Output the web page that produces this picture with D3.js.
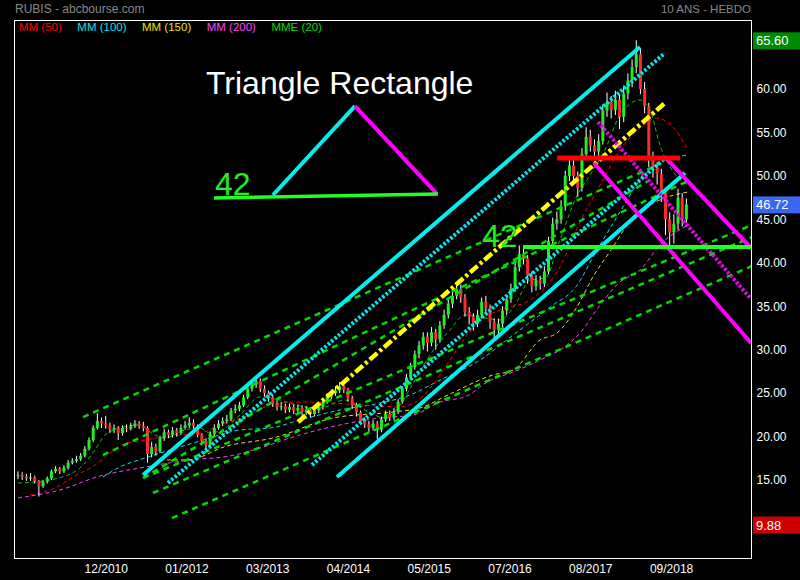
<!DOCTYPE html>
<html><head><meta charset="utf-8">
<script src="https://cdn.jsdelivr.net/npm/d3@7"></script>
<style>html,body{margin:0;padding:0;background:#000;}svg{display:block;}</style>
</head><body>
<svg id="c" width="800" height="580"></svg>
<script>
// ---- DATA ----
// candles: one candle = 3 weeks, week index = 3*i (week 0 = end of Sep 2009)
const candleStep = 3;
const firstOpen = 15.5;
const closes = [15.6,15.4,15.2,15.3,14.9,14.3,14.8,15.2,16.0,16.3,16.0,16.4,17.0,17.2,17.4,17.8,18.6,19.6,21.0,21.8,
21.5,21.3,20.8,21.0,20.4,21.0,20.9,21.2,21.5,21.2,21.0,18.0,18.8,18.3,19.8,20.5,20.2,20.7,20.4,21.0,
21.3,21.6,21.2,20.2,19.5,19.0,20.3,21.0,21.5,21.8,22.0,23.0,23.2,23.6,24.5,25.5,26.0,26.4,25.5,25.0,
24.5,23.8,23.4,23.5,23.1,23.4,23.0,23.3,22.8,23.1,22.6,23.0,23.4,24.0,24.6,25.0,25.3,25.8,25.4,24.4,
23.6,22.8,21.8,21.4,21.0,21.5,20.8,22.0,22.6,22.2,22.8,24.0,25.5,26.8,28.0,29.5,30.5,31.5,30.8,32.0,
31.2,32.8,34.0,35.3,36.2,37.0,36.0,34.3,33.8,33.0,34.0,35.5,34.8,33.2,32.3,33.0,34.5,35.8,37.0,39.5,
41.0,40.5,38.5,37.3,38.0,37.6,39.0,42.5,44.5,45.0,46.5,50.0,51.2,50.0,48.6,52.5,54.5,53.5,52.8,54.0,
57.5,58.5,57.6,58.8,56.8,59.5,61.0,62.5,64.0,60.0,58.0,52.0,51.0,50.2,48.0,45.0,43.5,44.5,47.5,45.0,46.72];
const highs = [16.0,15.9,15.7,15.8,15.5,15.0,15.0,15.4,16.2,16.6,16.5,16.7,17.3,17.5,17.8,18.1,18.9,19.9,21.3,22.7,
22.2,22.4,21.6,21.4,21.2,21.3,21.4,21.6,21.9,21.8,21.7,21.2,19.4,19.2,20.1,20.9,20.8,21.1,21.0,21.4,
21.8,22.2,22.0,21.4,20.4,19.8,20.6,21.4,21.9,22.2,22.5,23.3,23.7,24.0,24.8,25.8,26.5,27.0,26.7,25.9,
25.3,24.8,24.2,24.0,23.8,23.8,23.7,23.7,23.6,23.5,23.4,23.4,23.8,24.4,25.0,25.4,25.8,26.3,26.1,25.6,
24.7,23.9,23.0,22.2,21.8,21.9,21.8,22.3,23.0,23.0,23.3,24.3,25.8,27.2,28.5,29.9,31.0,32.0,32.0,32.6,
32.4,33.3,34.6,35.8,36.9,37.8,37.5,36.4,34.9,34.2,34.6,36.0,36.2,35.2,33.6,33.6,35.0,36.3,37.6,40.0,
42.0,41.7,40.9,39.0,38.6,38.5,39.6,43.0,45.2,45.9,47.2,50.6,52.0,51.8,50.5,53.2,55.6,55.3,54.2,54.8,
58.2,59.6,59.2,59.8,59.4,60.4,61.8,63.4,65.6,64.6,60.8,58.4,52.8,51.6,50.8,48.6,45.8,45.6,48.5,48.0,47.4];
const lows = [15.1,15.0,14.9,14.9,14.6,13.1,14.1,14.6,15.0,15.8,15.7,15.8,16.2,16.8,17.0,17.2,17.6,18.4,19.4,20.8,
21.0,20.9,20.4,20.4,19.6,20.1,20.5,20.7,21.0,20.9,20.6,17.0,17.6,17.8,18.1,19.5,19.8,19.9,20.0,20.2,
20.8,21.0,20.9,19.9,19.0,18.5,18.8,20.0,20.8,21.2,21.5,21.8,22.7,22.9,23.4,24.3,25.2,25.6,25.1,24.6,
24.0,23.4,23.0,23.0,22.7,22.8,22.6,22.7,22.4,22.5,22.2,22.3,22.7,23.1,23.8,24.3,24.7,25.0,25.0,24.0,
23.2,22.3,21.4,21.0,20.5,20.7,19.7,20.5,21.7,21.8,21.9,22.6,23.8,25.2,26.5,27.7,29.0,30.0,29.8,30.4,
30.0,30.8,32.4,33.6,34.8,35.8,35.4,33.8,32.9,32.2,32.6,33.6,34.2,32.4,31.0,31.8,32.6,34.0,35.4,36.7,
39.0,39.8,37.6,36.6,36.8,36.9,37.2,38.7,42.0,43.8,44.5,46.0,49.4,49.2,47.6,48.2,52.0,52.8,51.8,52.2,
53.6,56.8,56.6,57.0,55.4,56.2,58.8,60.2,61.8,59.4,57.2,51.0,49.8,49.0,47.0,43.2,42.0,42.2,43.8,44.2,44.6];

// moving averages: [week, value]
const mm50  = [[8.6,13.28],[26.6,14.09],[40.9,15.47],[55.3,16.73],[66.1,18.11],[76.8,19.15],[91.2,19.61],[109.2,20.07],[130.7,20.41],[148.7,21.57],[166.6,22.49],[181.0,23.64],[202.5,23.98],[224.1,23.87],[245.6,23.64],[274.3,23.41],[288.7,24.33],[303.1,27.09],[317.4,30.54],[331.8,33.42],[346.1,34.57],[367.7,35.72],[389.2,39.52],[403.6,44.70],[418.0,48.95],[432.3,52.98],[446.7,55.51],[458.9,56.66],[469.7,55.74],[481.2,52.98]];
const mm100 = [[61.0,15.35],[73.2,16.50],[91.2,17.54],[109.2,18.46],[130.7,19.49],[159.4,20.76],[181.0,20.99],[202.5,21.91],[231.2,23.06],[256.4,23.75],[281.5,24.79],[303.1,26.51],[331.8,28.81],[355.5,31.69],[384.2,35.14],[400.0,37.10],[415.8,41.47],[432.3,45.85],[446.7,49.53],[461.0,51.49],[481.2,52.41]];
const mm150 = [[107.0,17.31],[121.4,17.31],[150.1,18.92],[183.1,19.84],[226.2,22.14],[269.3,22.83],[288.7,23.29],[310.2,24.90],[341.1,27.09],[355.5,27.66],[374.9,31.12],[387.1,31.92],[401.4,34.91],[412.9,38.37],[427.3,41.82],[441.6,45.27],[461.0,47.23],[481.2,48.15]];
const mm200 = [[0,12.94],[30.2,13.86],[58.9,15.47],[87.6,16.39],[123.5,17.31],[152.2,17.77],[173.8,18.69],[197.5,19.95],[231.2,21.34],[260.0,22.14],[283.7,22.49],[303.1,23.98],[322.4,24.67],[336.8,26.28],[355.5,27.43],[374.9,28.81],[394.3,30.54],[403.6,31.92],[418.0,35.14],[432.3,37.79],[446.7,39.17],[461.0,42.05],[481.2,44.35]];
const mme20 = [[0,14.66],[23.0,15.01],[44.5,16.39],[55.3,18.46],[62.5,20.18],[73.2,20.99],[87.6,21.34],[94.8,20.53],[105.6,19.84],[119.9,20.76],[130.7,20.99],[137.9,20.41],[148.7,20.99],[159.4,22.49],[173.8,24.56],[188.2,24.21],[202.5,23.52],[216.9,23.29],[234.8,24.21],[249.2,23.06],[263.6,22.14],[274.3,23.64],[285.1,26.51],[295.9,29.39],[310.2,32.27],[321.0,33.99],[335.4,33.65],[346.1,33.42],[356.9,35.14],[367.7,38.02],[378.5,38.25],[389.2,42.62],[400.0,47.23],[410.8,50.10],[421.5,52.98],[432.3,57.01],[446.7,58.73],[453.9,57.58],[461.0,53.56],[469.7,50.68],[481.2,48.95]];

// drawn trend lines: [[week, price],[week, price]]
const greenDashed = [
  [[46.7,22.25],[461.0,51.37]],
  [[61.0,17.88],[482.6,49.53]],
  [[89.8,15.24],[453.8,49.53]],
  [[89.8,15.24],[527.1,44.35]],
  [[96.9,13.51],[527.1,42.97]],
  [[110.6,10.63],[527.1,39.63]]
];
const cyanSolid  = [[[89.8,15.58],[446.7,64.83]], [[229.1,15.35],[479.0,50.33]]];
const cyanDotted = [[[107.7,14.66],[464.6,64.14]], [[211.1,16.73],[463.2,51.83]]];
const yellowDashDot = [[[201.1,21.68],[464.6,58.39]]];
const magentaSolid = [[[413.6,51.48],[526.4,30.77]], [[464.6,52.17],[526.4,41.70]]];
const magentaDotted = [[[416.5,56.20],[526.4,35.83]]];
const redLevel = [[387.1,52.06],[475.4,52.06]];
const greenLevel = [[362.7,41.82],[526.4,41.82]];
const levelLabel = {text:"42", w:333.2, p:41.82};
// inset sketch
const insetCyan = [[183.1,47.80],[242.0,58.04]];
const insetMagenta = [[242.0,58.04],[300.9,47.92]];
const insetGreen = [[140.8,47.45],[301.6,47.92]];
const insetLabel = {text:"42", w:141.5, p:47.80};
const insetTitle = {text:"Triangle Rectangle", w:135.0, p:59.42};

// axes (the 10.00 tick is hidden under the 9.88 box in the original)
const yTicks = [15,20,25,30,35,40,45,50,55,60];
const xTickWeeks = [63,121,179,237,295,353,411,469];
const xTickLabels = ["12/2010","01/2012","03/2013","04/2014","05/2015","07/2016","08/2017","09/2018"];
const lastBoxes = [{v:65.60,color:"#008a00"},{v:46.72,color:"#3a66f0"},{v:9.88,color:"#cc0000"}];
const legend = [{t:"MM (50)",c:"#ff0000"},{t:"MM (100)",c:"#00e5e5"},{t:"MM (150)",c:"#e5e500"},{t:"MM (200)",c:"#ff40ff"},{t:"MME (20)",c:"#00dd00"}];
const title = "RUBIS - abcbourse.com";
const subtitle = "10 ANS - HEBDO";

// ---- CHART ----
const svg = d3.select("#c");
const L = 14, R = 751, T = 20, B = 558;
const x = d3.scaleLinear().domain([-2.87, 526.4]).range([L, R]);
const y = d3.scaleLinear().domain([6.03, 67.94]).range([B, T]);
const font = "'Liberation Sans', Arial, sans-serif";

svg.append("rect").attr("width",800).attr("height",580).attr("fill","#000");
svg.append("defs").append("clipPath").attr("id","plot").append("rect")
  .attr("x",L).attr("y",T).attr("width",R-L).attr("height",B-T);

svg.append("text").attr("x",15).attr("y",13).attr("fill","#888").attr("font-family",font).attr("font-size",12).text(title);
svg.append("text").attr("x",751).attr("y",13).attr("text-anchor","end").attr("fill","#888").attr("font-family",font).attr("font-size",11.5).text(subtitle);

const g = svg.append("g").attr("clip-path","url(#plot)");
const line = d3.line().x(d=>x(d[0])).y(d=>y(d[1]));

// moving averages
[[mm200,"#ff40ff"],[mm150,"#e5e500"],[mm100,"#00e5e5"],[mm50,"#ff0000"],[mme20,"#00cc00"]].forEach(([d,c])=>{
  g.append("path").attr("d",line.curve(d3.curveMonotoneX)(d)).attr("fill","none")
   .attr("stroke",c).attr("stroke-width",1).attr("stroke-dasharray","4,3");
});
line.curve(d3.curveLinear);

// candles
const candles = closes.map((c,i)=>({w:i*candleStep, o: i===0?firstOpen:closes[i-1], c, h:highs[i], l:lows[i]}));
const cg = g.append("g");
cg.selectAll("line.wick").data(candles).join("line")
  .attr("x1",d=>x(d.w)).attr("x2",d=>x(d.w)).attr("y1",d=>y(d.h)).attr("y2",d=>y(d.l))
  .attr("stroke","#fff").attr("stroke-width",1);
cg.selectAll("rect.body").data(candles).join("rect")
  .attr("x",d=>x(d.w)-1.5).attr("width",3)
  .attr("y",d=>y(Math.max(d.o,d.c))).attr("height",d=>Math.max(1,Math.abs(y(d.o)-y(d.c))))
  .attr("fill",d=>d.c>=d.o?"#22ee22":"#ff2a2a");

// trend lines
function seg(d, color, width, dash){
  const p = g.append("path").attr("d",line(d)).attr("fill","none").attr("stroke",color).attr("stroke-width",width);
  if(dash) p.attr("stroke-dasharray",dash);
  return p;
}
greenDashed.forEach(d=>seg(d,"#00dd00",2.5,"6,5"));
cyanDotted.forEach(d=>seg(d,"#00e8f0",4,"2.5,2"));
cyanSolid.forEach(d=>seg(d,"#00f0f0",4));
yellowDashDot.forEach(d=>seg(d,"#ffff00",4.5,"10,3,3,3"));
magentaDotted.forEach(d=>seg(d,"#ee00ee",4,"2.5,2"));
magentaSolid.forEach(d=>seg(d,"#ff00ff",4));
seg(redLevel,"#ff0000",5);
seg(greenLevel,"#22ff22",4);
seg(insetCyan,"#00f0f0",4);
seg(insetMagenta,"#ff00ff",4);
seg(insetGreen,"#22ff22",3.5);

g.append("text").attr("x",x(levelLabel.w)).attr("y",y(levelLabel.p)).attr("fill","#22ee22").attr("font-family",font).attr("font-size",32).text(levelLabel.text);
g.append("text").attr("x",x(insetLabel.w)).attr("y",y(insetLabel.p)).attr("fill","#22ee22").attr("font-family",font).attr("font-size",32).text(insetLabel.text);
g.append("text").attr("x",x(insetTitle.w)).attr("y",y(insetTitle.p)).attr("fill","#fff").attr("font-family",font).attr("font-size",32).text(insetTitle.text);

// frame
svg.append("rect").attr("x",L+0.5).attr("y",T+0.5).attr("width",R-L).attr("height",B-T)
  .attr("fill","none").attr("stroke","#fff").attr("stroke-width",1);

// legend
let lx = 19;
const lg = svg.append("g");
legend.forEach(d=>{
  const t = lg.append("text").attr("x",lx).attr("y",31).attr("fill",d.c).attr("font-family",font).attr("font-size",11.5).text(d.t);
  lx += t.node().getComputedTextLength() + 15.5;
});

// y axis
const ya = svg.append("g").attr("transform",`translate(${R+0.5},0)`)
  .call(d3.axisRight(y).tickValues(yTicks).tickFormat(d3.format(".2f")).tickSize(0).tickPadding(5));
ya.select(".domain").remove();
ya.selectAll("text").attr("fill","#fff").attr("font-family",font).attr("font-size",12);

// x axis
const xa = svg.append("g").attr("transform",`translate(0,${B+1})`)
  .call(d3.axisBottom(x).tickValues(xTickWeeks).tickFormat((d,i)=>xTickLabels[i]).tickSize(0).tickPadding(5));
xa.select(".domain").remove();
xa.selectAll("text").attr("fill","#fff").attr("font-family",font).attr("font-size",12);

// last value boxes
lastBoxes.forEach(b=>{
  const yy = y(b.v);
  svg.append("rect").attr("x",R+2).attr("y",yy-8).attr("width",800-R-2).attr("height",17).attr("fill",b.color);
  svg.append("text").attr("x",R+5).attr("y",yy+5).attr("fill","#fff").attr("font-family",font).attr("font-size",13).text(b.v.toFixed(2));
});
</script>
</body></html>
